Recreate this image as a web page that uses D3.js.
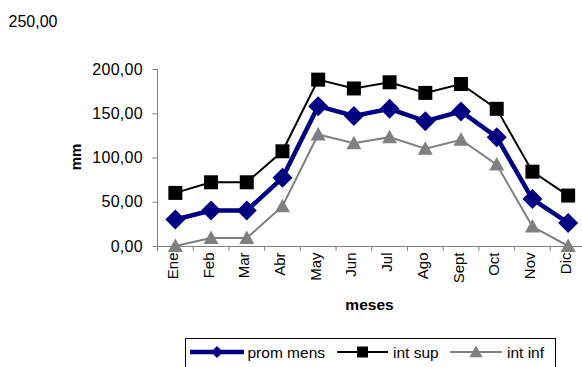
<!DOCTYPE html>
<html><head><meta charset="utf-8">
<script src="https://cdn.jsdelivr.net/npm/d3@7"></script>
<style>body{margin:0;background:#fff}svg{display:block;font-family:Arial,"Liberation Sans",sans-serif}</style>
</head><body>
<svg id="c" width="582" height="367"></svg>
<script>
const months = ["Ene","Feb","Mar","Abr","May","Jun","Jul","Ago","Sept","Oct","Nov","Dic"];
const promMens = [30,40,40,77,158,147,155,141,152,123,53,26];
const intSup = [60,72,72,107,188,178,185,173,183,155,84,57];
const intInf = [0,9,9,45,126,116,123,110,120,92,22,0];
const yTicks = [0,50,100,150,200];
const seriesNames = ["prom mens","int sup","int inf"];

const svg = d3.select("#c");
const fmt = v => d3.format(".2f")(v).replace(".", ",");
const x = d3.scaleBand().domain(months).range([157.5, 586]);
const y = d3.scaleLinear().domain([0, 200]).range([246, 69]);
const cx = m => x(m) + x.bandwidth() / 2;
const FS = 15;

// stray top label
svg.append("text").attr("x", 8.5).attr("y", 27).attr("font-size", 16).text(fmt(250));

// y axis
const ya = svg.append("g").attr("transform", "translate(157.5,0)")
  .call(d3.axisLeft(y).tickValues(yTicks).tickFormat(fmt).tickSize(5).tickPadding(9.5));
ya.select(".domain").attr("stroke", "#808080").attr("d", "M0,69V246");
ya.selectAll(".tick line").attr("stroke", "#808080");
ya.selectAll("text").attr("font-size", 16).attr("fill", "#000").attr("letter-spacing", 0.3)
  .attr("font-family", "Arial, 'Liberation Sans', sans-serif");

// x axis
const xa = svg.append("g").attr("transform", "translate(0,246)")
  .call(d3.axisBottom(x).tickSize(0).tickFormat(""));
xa.select(".domain").attr("stroke", "#808080");
xa.selectAll(".tick").remove();
const bounds = months.map(m => x(m)).concat([x(months[11]) + x.bandwidth()]);
xa.selectAll("line.tk").data(bounds).enter().append("line")
  .attr("x1", d => d).attr("x2", d => d).attr("y1", 0).attr("y2", 5).attr("stroke", "#808080");
svg.selectAll("text.xl").data(months).enter().append("text")
  .attr("transform", d => `translate(${cx(d) + 2.5},252.5) rotate(-90)`)
  .attr("text-anchor", "end").attr("font-size", FS).text(d => d);

// titles
svg.append("text").attr("transform", "translate(81,157) rotate(-90)").attr("text-anchor", "middle")
  .attr("font-size", FS).attr("font-weight", "bold").text("mm");
svg.append("text").attr("x", 369.5).attr("y", 310).attr("text-anchor", "middle")
  .attr("font-size", 15.5).attr("font-weight", "bold").text("meses");

const line = d3.line().x((d, i) => cx(months[i])).y(d => y(d));
const diamond = s => `M0,${-s}L${s},0L0,${s}L${-s},0Z`;
const square = s => `M${-s},${-s}H${s}V${s}H${-s}Z`;
const tri = s => `M0,${-s}L${s},${s*0.8}L${-s},${s*0.8}Z`;

function series(data, color, width, shape, size) {
  svg.append("path").attr("d", line(data)).attr("fill", "none").attr("stroke", color).attr("stroke-width", width);
  svg.selectAll(null).data(data).enter().append("path")
    .attr("transform", (d, i) => `translate(${cx(months[i])},${y(d)})`)
    .attr("d", shape(size)).attr("fill", color);
}
series(intInf, "#808080", 2, tri, 7.5);
series(intSup, "#000000", 2, square, 7);
series(promMens, "#000080", 4.5, diamond, 10);

// legend
const lg = svg.append("g");
lg.append("rect").attr("x", 185.5).attr("y", 338.5).attr("width", 370).attr("height", 40)
  .attr("fill", "#fff").attr("stroke", "#000");
const items = [
  {name: seriesNames[0], color: "#000080", w: 4.5, shape: diamond, s: 6, x0: 190, x1: 244, tx: 247.5},
  {name: seriesNames[1], color: "#000", w: 2, shape: square, s: 5.5, x0: 337, x1: 388, tx: 393},
  {name: seriesNames[2], color: "#808080", w: 2, shape: tri, s: 6.5, x0: 450, x1: 502, tx: 507}
];
items.forEach(it => {
  lg.append("line").attr("x1", it.x0).attr("x2", it.x1).attr("y1", 352).attr("y2", 352)
    .attr("stroke", it.color).attr("stroke-width", it.w);
  lg.append("path").attr("transform", `translate(${(it.x0 + it.x1) / 2},352)`).attr("d", it.shape(it.s)).attr("fill", it.color);
  lg.append("text").attr("x", it.tx).attr("y", 357.5).attr("font-size", 15.5).text(it.name);
});
</script>
</body></html>
